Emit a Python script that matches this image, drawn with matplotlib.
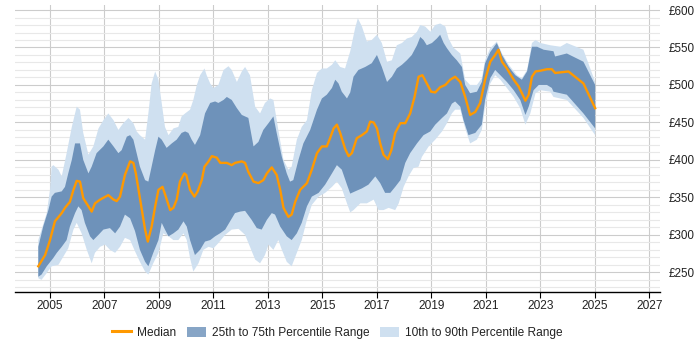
import numpy as np
import matplotlib
matplotlib.use("Agg")
import matplotlib.pyplot as plt
from matplotlib.lines import Line2D
from matplotlib.patches import Patch
from matplotlib.ticker import MultipleLocator, FuncFormatter

plt.rcParams['font.family'] = ['Liberation Sans', 'DejaVu Sans']

# ---- data ----
median_x = [2004.57, 2004.82, 2005.0, 2005.18, 2005.43, 2005.55, 2005.73, 2005.86, 2005.98, 2006.1,
            2006.22, 2006.41, 2006.53, 2006.65, 2006.84, 2007.14, 2007.33, 2007.45, 2007.57, 2007.75,
            2007.94, 2008.06, 2008.15, 2008.3, 2008.49, 2008.59, 2008.73, 2008.86, 2008.98, 2009.13,
            2009.25, 2009.41, 2009.53, 2009.65, 2009.77, 2009.93, 2010.0, 2010.14, 2010.3, 2010.42,
            2010.57, 2010.67, 2010.82, 2010.94, 2011.12, 2011.25, 2011.49, 2011.67, 2011.79, 2012.04,
            2012.16, 2012.28, 2012.47, 2012.65, 2012.83, 2012.96, 2013.14, 2013.32, 2013.45, 2013.57,
            2013.75, 2013.87, 2014.0, 2014.18, 2014.43, 2014.61, 2014.8, 2014.98, 2015.16, 2015.28,
            2015.41, 2015.53, 2015.65, 2015.83, 2015.96, 2016.08, 2016.26, 2016.45, 2016.63, 2016.75,
            2016.88, 2017.0, 2017.12, 2017.24, 2017.4, 2017.53, 2017.67, 2017.86, 2018.04, 2018.22,
            2018.38, 2018.53, 2018.67, 2018.83, 2018.99, 2019.14, 2019.32, 2019.51, 2019.69, 2019.87,
            2020.06, 2020.24, 2020.42, 2020.61, 2020.79, 2020.97, 2021.16, 2021.34, 2021.46, 2021.59,
            2021.77, 2022.02, 2022.2, 2022.32, 2022.45, 2022.57, 2022.69, 2022.82, 2023.0, 2023.24,
            2023.42, 2023.54, 2024.03, 2024.58, 2025.01]
median_y = [258, 273, 293, 318, 329, 336, 344, 360, 372, 371,
            349, 338, 331, 342, 347, 353, 347, 345, 351, 380,
            398, 396, 382, 349, 307, 291, 311, 338, 360, 364,
            351, 333, 336, 347, 371, 382, 380, 360, 351, 358,
            373, 391, 398, 405, 403, 396, 396, 393, 396, 398,
            396, 384, 371, 369, 373, 382, 390, 380, 360, 336,
            324, 327, 344, 360, 369, 387, 409, 418, 418, 429,
            442, 447, 436, 415, 405, 409, 429, 433, 438, 451,
            450, 442, 422, 407, 401, 413, 436, 449, 449, 462,
            484, 511, 513, 502, 491, 490, 497, 500, 507, 511,
            504, 484, 460, 464, 476, 507, 531, 540, 547, 531,
            522, 507, 498, 489, 479, 487, 511, 518, 519, 521,
            521, 516, 518, 502, 469]

p75_x = [2004.57, 2004.75, 2004.94, 2005.06, 2005.18, 2005.43, 2005.55, 2005.67, 2005.8, 2005.92,
         2006.1, 2006.22, 2006.41, 2006.53, 2006.71, 2006.96, 2007.14, 2007.33, 2007.51, 2007.63,
         2007.82, 2007.94, 2008.06, 2008.18, 2008.3, 2008.49, 2008.61, 2008.73, 2008.86, 2008.98,
         2009.1, 2009.28, 2009.47, 2009.65, 2009.83, 2009.96, 2010.08, 2010.2, 2010.32, 2010.51,
         2010.69, 2010.88, 2011.06, 2011.18, 2011.37, 2011.49, 2011.67, 2011.86, 2012.04, 2012.16,
         2012.28, 2012.47, 2012.65, 2012.83, 2013.02, 2013.2, 2013.32, 2013.51, 2013.69, 2013.81,
         2013.93, 2014.12, 2014.3, 2014.55, 2014.8, 2014.98, 2015.16, 2015.35, 2015.47, 2015.59,
         2015.71, 2015.9, 2016.02, 2016.14, 2016.32, 2016.57, 2016.81, 2017.0, 2017.18, 2017.37,
         2017.55, 2017.73, 2017.92, 2018.1, 2018.28, 2018.47, 2018.59, 2018.71, 2018.83, 2019.02,
         2019.2, 2019.32, 2019.45, 2019.57, 2019.75, 2019.93, 2020.12, 2020.24, 2020.42, 2020.67,
         2020.85, 2020.97, 2021.16, 2021.4, 2021.59, 2021.84, 2022.08, 2022.32, 2022.51, 2022.69,
         2022.88, 2023.12, 2023.48, 2023.54, 2023.97, 2024.58, 2025.01]
p75_y = [284, 311, 333, 351, 356, 358, 364, 382, 400, 422,
         422, 400, 382, 391, 409, 418, 427, 418, 409, 413,
         431, 433, 427, 409, 391, 373, 371, 391, 413, 431,
         427, 416, 422, 427, 436, 438, 436, 427, 420, 433,
         462, 476, 478, 476, 480, 484, 480, 469, 460, 458,
         456, 418, 424, 440, 449, 458, 436, 404, 382, 371,
         373, 400, 422, 440, 467, 482, 487, 496, 507, 502,
         491, 482, 490, 511, 520, 524, 529, 540, 524, 504,
         511, 522, 527, 533, 540, 553, 564, 560, 553, 556,
         562, 567, 556, 549, 540, 533, 524, 500, 489, 491,
         504, 529, 544, 556, 540, 524, 513, 507, 518, 551,
         551, 547, 545, 538, 542, 531, 500]

p25_x = [2004.57, 2004.69, 2004.88, 2005.12, 2005.25, 2005.43, 2005.61, 2005.73, 2005.92, 2006.04,
         2006.16, 2006.28, 2006.47, 2006.59, 2006.78, 2006.96, 2007.2, 2007.39, 2007.57, 2007.75,
         2007.94, 2008.12, 2008.3, 2008.49, 2008.61, 2008.79, 2008.98, 2009.1, 2009.22, 2009.35,
         2009.53, 2009.71, 2009.9, 2010.02, 2010.14, 2010.32, 2010.51, 2010.69, 2010.88, 2011.06,
         2011.24, 2011.43, 2011.61, 2011.79, 2011.98, 2012.16, 2012.4, 2012.59, 2012.77, 2012.96,
         2013.14, 2013.26, 2013.45, 2013.69, 2013.87, 2014.06, 2014.24, 2014.43, 2014.61, 2014.86,
         2015.1, 2015.35, 2015.53, 2015.71, 2015.9, 2016.02, 2016.2, 2016.45, 2016.69, 2016.94,
         2017.12, 2017.3, 2017.49, 2017.67, 2017.86, 2018.04, 2018.22, 2018.47, 2018.71, 2018.96,
         2019.14, 2019.39, 2019.57, 2019.75, 2019.87, 2020.06, 2020.18, 2020.36, 2020.61, 2020.85,
         2020.97, 2021.16, 2021.34, 2021.53, 2021.77, 2022.02, 2022.26, 2022.45, 2022.57, 2022.75,
         2022.94, 2023.24, 2023.42, 2023.48, 2023.97, 2024.58, 2025.01]
p25_y = [244, 247, 258, 269, 276, 284, 293, 311, 329, 338,
         333, 316, 298, 293, 300, 307, 309, 302, 311, 327,
         322, 305, 280, 264, 258, 276, 293, 316, 307, 298,
         302, 307, 318, 311, 293, 273, 280, 291, 293, 298,
         302, 307, 318, 329, 331, 332, 320, 309, 307, 320,
         329, 327, 311, 298, 293, 302, 316, 338, 351, 356,
         367, 382, 393, 387, 367, 355, 358, 362, 367, 378,
         369, 356, 356, 364, 373, 396, 409, 422, 433, 438,
         447, 456, 462, 475, 478, 471, 453, 433, 436, 447,
         480, 509, 520, 513, 504, 493, 480, 460, 471, 493,
         500, 500, 496, 491, 487, 462, 442]

p90_x = [2004.57, 2004.69, 2004.88, 2005.0, 2005.06, 2005.12, 2005.31, 2005.43, 2005.61, 2005.8,
         2005.98, 2006.1, 2006.22, 2006.41, 2006.59, 2006.78, 2006.96, 2007.14, 2007.33, 2007.51,
         2007.69, 2007.88, 2008.06, 2008.18, 2008.3, 2008.49, 2008.61, 2008.73, 2008.86, 2008.98,
         2009.1, 2009.22, 2009.35, 2009.53, 2009.71, 2009.83, 2009.96, 2010.14, 2010.26, 2010.39,
         2010.51, 2010.67, 2010.75, 2010.88, 2011.0, 2011.18, 2011.37, 2011.55, 2011.67, 2011.86,
         2012.04, 2012.16, 2012.34, 2012.53, 2012.71, 2012.89, 2013.08, 2013.2, 2013.38, 2013.57,
         2013.75, 2013.87, 2014.06, 2014.24, 2014.43, 2014.61, 2014.8, 2014.98, 2015.16, 2015.35,
         2015.47, 2015.65, 2015.83, 2016.02, 2016.2, 2016.3, 2016.45, 2016.63, 2016.81, 2017.0,
         2017.18, 2017.37, 2017.55, 2017.73, 2017.92, 2018.1, 2018.28, 2018.47, 2018.59, 2018.77,
         2018.96, 2019.14, 2019.32, 2019.51, 2019.63, 2019.8, 2020.06, 2020.24, 2020.42, 2020.67,
         2020.85, 2020.97, 2021.16, 2021.4, 2021.59, 2021.84, 2022.14, 2022.32, 2022.51, 2022.69,
         2022.82, 2023.0, 2023.36, 2023.73, 2023.97, 2024.58, 2025.01]
p90_y = [293, 307, 329, 360, 391, 393, 387, 378, 409, 444,
         471, 467, 436, 407, 418, 442, 453, 462, 453, 440,
         449, 456, 449, 438, 433, 427, 462, 502, 518, 507,
         476, 444, 433, 442, 444, 458, 462, 467, 480, 500,
         513, 522, 513, 502, 496, 500, 520, 525, 520, 504,
         518, 524, 513, 471, 462, 476, 482, 480, 440, 400,
         387, 391, 427, 444, 453, 493, 516, 522, 522, 527,
         533, 524, 522, 545, 576, 589, 578, 558, 560, 567,
         556, 531, 533, 553, 556, 562, 564, 571, 580, 578,
         571, 580, 582, 578, 562, 550, 542, 507, 500, 500,
         509, 533, 549, 558, 542, 527, 513, 509, 520, 556,
         560, 556, 553, 551, 556, 547, 504]

p10_x = [2004.57, 2004.69, 2004.88, 2005.06, 2005.31, 2005.49, 2005.67, 2005.86, 2005.98, 2006.16,
         2006.35, 2006.53, 2006.65, 2006.84, 2007.02, 2007.2, 2007.39, 2007.57, 2007.75, 2007.94,
         2008.12, 2008.3, 2008.49, 2008.61, 2008.79, 2008.98, 2009.16, 2009.35, 2009.53, 2009.71,
         2009.9, 2010.02, 2010.14, 2010.26, 2010.45, 2010.63, 2010.82, 2011.0, 2011.18, 2011.43,
         2011.67, 2011.92, 2012.16, 2012.34, 2012.53, 2012.71, 2012.89, 2013.02, 2013.2, 2013.38,
         2013.51, 2013.69, 2013.87, 2014.06, 2014.24, 2014.43, 2014.61, 2014.86, 2015.1, 2015.35,
         2015.53, 2015.71, 2015.9, 2016.02, 2016.14, 2016.39, 2016.63, 2016.88, 2017.06, 2017.24,
         2017.43, 2017.67, 2017.8, 2017.98, 2018.16, 2018.34, 2018.53, 2018.65, 2018.9, 2019.14,
         2019.39, 2019.57, 2019.75, 2019.87, 2020.06, 2020.24, 2020.42, 2020.67, 2020.85, 2020.97,
         2021.16, 2021.34, 2021.53, 2021.77, 2022.02, 2022.26, 2022.45, 2022.63, 2022.82, 2023.0,
         2023.36, 2023.48, 2023.97, 2024.58, 2025.01]
p10_y = [242, 240, 249, 258, 260, 271, 282, 307, 316, 302,
         280, 262, 276, 284, 287, 280, 276, 284, 296, 293,
         278, 264, 251, 247, 262, 276, 302, 298, 293, 293,
         302, 293, 269, 251, 262, 280, 284, 282, 289, 300,
         307, 308, 300, 284, 267, 262, 273, 287, 280, 293,
         280, 264, 258, 276, 293, 320, 340, 351, 356, 364,
         371, 362, 342, 330, 333, 342, 342, 347, 333, 333,
         336, 333, 342, 364, 378, 389, 391, 404, 418, 427,
         438, 449, 462, 467, 467, 442, 422, 427, 440, 471,
         502, 513, 507, 496, 484, 469, 447, 462, 489, 493,
         491, 484, 480, 456, 433]

year_ticks = [2005, 2007, 2009, 2011, 2013, 2015, 2017, 2019, 2021, 2023, 2025, 2027]
value_ticks = [250, 300, 350, 400, 450, 500, 550, 600]

# ---- figure ----
fig = plt.figure(figsize=(7, 3.5), dpi=100)
ax = fig.add_axes([15/700, 1 - 292/350, 645/700, 287/350])

c_light = '#CFE0F0'
c_dark = '#6E92BA'
c_med = '#FF9900'

ax.fill(np.concatenate([p90_x, p10_x[::-1]]), np.concatenate([p90_y, p10_y[::-1]]),
        color=c_light, lw=0, zorder=2)
ax.fill(np.concatenate([p75_x, p25_x[::-1]]), np.concatenate([p75_y, p25_y[::-1]]),
        color=c_dark, lw=0, zorder=3)
ax.plot(median_x, median_y, color=c_med, lw=1.7, zorder=4, solid_joinstyle='round')

ax.set_xlim(2003.715, 2027.39)
ax.set_ylim(223.7, 606.7)
ax.set_xticks(year_ticks)
ax.set_yticks(value_ticks)
ax.yaxis.set_minor_locator(MultipleLocator(10))
ax.yaxis.set_major_formatter(FuncFormatter(lambda v, p: '£%d' % v))

ax.grid(which='major', axis='both', color='#CCCCCC', lw=0.8, zorder=0)
ax.grid(which='minor', axis='y', color='#E8E8E8', lw=0.8, zorder=0)
ax.set_axisbelow(True)

for s in ['left', 'right', 'top']:
    ax.spines[s].set_visible(False)
ax.spines['bottom'].set_color('#000000')
ax.spines['bottom'].set_linewidth(1.0)

ax.tick_params(axis='x', which='major', length=4, color='#000000', labelsize=8.6,
               labelcolor='#222222', pad=2)
ax.tick_params(axis='y', which='both', length=0, left=False, right=False,
               labelleft=False, labelright=True, labelsize=8.4, labelcolor='#222222', pad=6)

handles = [Line2D([0], [0], color=c_med, lw=2.2),
           Patch(facecolor='#87A5C6', edgecolor='none'),
           Patch(facecolor=c_light, edgecolor='none')]
labels = ['Median', '25th to 75th Percentile Range', '10th to 90th Percentile Range']
fig.legend(handles, labels, loc='center', bbox_to_anchor=(0.482, 0.049), ncol=3,
           frameon=False, fontsize=8.6, handlelength=1.6, handleheight=1.0,
           columnspacing=0.9, handletextpad=0.5, labelcolor='#222222')

fig.savefig('out.png', dpi=100)
